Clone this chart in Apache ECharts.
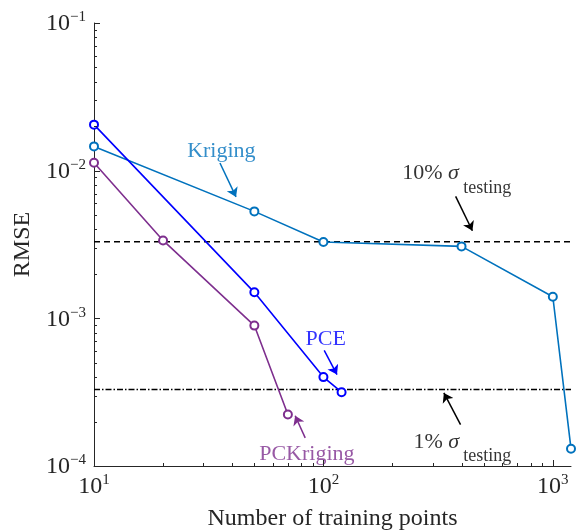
<!DOCTYPE html>
<html><head><meta charset="utf-8">
<script src="https://cdn.jsdelivr.net/npm/echarts@6/dist/echarts.min.js"></script>
<style>html,body{margin:0;padding:0;background:#fff}#c{width:582px;height:531px}</style>
</head><body><div id="c"></div>
<script>
// ---- data ----
const pceX = [10, 50, 100, 120];
const pceY = [0.0205, 0.0015, 0.0004, 0.000316];
const krigX = [10, 50, 100, 400, 1000, 1200];
const krigY = [0.0146, 0.0053, 0.00329, 0.00307, 0.0014, 0.000131];
const pckX = [10, 20, 50, 70];
const pckY = [0.0113, 0.00337, 0.000893, 0.000223];
const sigma10 = 0.0033;
const sigma1 = 0.00033;
const xRange = [10, 1200];
const yRange = [1e-4, 1e-1];
const xMajorTicks = [10, 100, 1000];
const xMinorTicks = [20, 30, 40, 50, 60, 70, 80, 90, 200, 300, 400, 500, 600, 700, 800, 900];
const yMajorTicks = [1e-4, 1e-3, 1e-2, 1e-1];
const yMinorTicks = [2e-4, 3e-4, 4e-4, 5e-4, 6e-4, 7e-4, 8e-4, 9e-4,
                     2e-3, 3e-3, 4e-3, 5e-3, 6e-3, 7e-3, 8e-3, 9e-3,
                     2e-2, 3e-2, 4e-2, 5e-2, 6e-2, 7e-2, 8e-2, 9e-2];
const xTitle = 'Number of training points';
const yTitle = 'RMSE';
// annotation text anchors (data coords)
const annoKriging = [35.9, 0.01345];
const annoPCE = [102.3, 0.000723];
const annoPCK = [84.7, 0.0001194];
const anno10Main = [220.4, 0.009543];
const anno10Sub = [406.5, 0.007551];
const anno1Main = [247, 0.000144];
const anno1Sub = [406.5, 0.0001158];
// annotation arrows [from, to]
const arrowKriging = [[35.4, 0.01127], [41.6, 0.00664]];
const arrowPCE = [[100.8, 0.000607], [114.6, 0.000416]];
const arrowPCK = [[83.3, 0.000155], [75.3, 0.000219]];
const arrow10 = [[377, 0.0067], [446, 0.00392]];
const arrow1 = [[396, 0.0001907], [335, 0.0003126]];

// ---- style ----
const FONT = '"Liberation Serif", "Times New Roman", serif';
const C_PCE = '#0000ff', C_KRIG = '#0072bd', C_PCK = '#7e2f8e', C_AX = '#262626';

function zip(a, b) { return a.map((v, i) => [v, b[i]]); }
function powLabel(v) {
  const l = Math.log10(v), e = Math.round(l);
  if (Math.abs(l - e) > 1e-6) return '';
  return '{b|10}{s|' + (e < 0 ? '\u2212' + (-e) : e) + '}';
}
const powRich = {
  b: { fontFamily: FONT, fontSize: 24, color: C_AX, lineHeight: 26, verticalAlign: 'bottom' },
  s: { fontFamily: FONT, fontSize: 15, color: C_AX, lineHeight: 14, verticalAlign: 'top' }
};

function tickSeries(vals, isX, len) {
  return {
    type: 'custom', coordinateSystem: 'cartesian2d', silent: true, z: 10, clip: false,
    data: vals.map(v => isX ? [v, yRange[0]] : [xRange[0], v]),
    renderItem: function (params, api) {
      const p = api.coord([api.value(0), api.value(1)]);
      if (isX) {
        const x = Math.round(p[0]) + 0.5;
        return { type: 'line', shape: { x1: x, y1: p[1], x2: x, y2: p[1] - len }, style: { stroke: C_AX, lineWidth: 1 } };
      } else {
        const y = Math.round(p[1]) + 0.5;
        return { type: 'line', shape: { x1: p[0], y1: y, x2: p[0] + len, y2: y }, style: { stroke: C_AX, lineWidth: 1 } };
      }
    }
  };
}

function dataSeries(name, xs, ys, color) {
  return {
    name: name, type: 'line', data: zip(xs, ys), z: 4,
    symbol: 'emptyCircle', symbolSize: 8,
    lineStyle: { color: color, width: 1.6 },
    itemStyle: { color: color, borderWidth: 1.6, borderColor: color },
    emphasis: { disabled: true }, animation: false
  };
}

function textSeries(pt, text, color, opts) {
  opts = opts || {};
  return {
    type: 'scatter', symbol: 'circle', symbolSize: 1, silent: true, z: 6, clip: false,
    itemStyle: { color: 'transparent' },
    data: [pt],
    label: {
      show: true, position: 'inside', align: opts.align || 'center', verticalAlign: 'middle',
      formatter: text, color: color, fontFamily: FONT, fontSize: opts.fontSize || 22,
      rich: opts.rich || {}
    }
  };
}

const sigmaRich = {
  t: { fontFamily: FONT, fontSize: 22, color: '#000' },
  g: { fontFamily: FONT, fontSize: 22, fontStyle: 'italic', color: '#000' }
};

const arrowSeries = {
  type: 'lines', coordinateSystem: 'cartesian2d', silent: true, z: 6,
  symbol: ['none', 'arrow'], symbolSize: [0, 9],
  lineStyle: { width: 1.5, opacity: 1 },
  data: [
    { coords: arrowKriging, lineStyle: { color: C_KRIG } },
    { coords: arrowPCE, lineStyle: { color: C_PCE } },
    { coords: arrowPCK, lineStyle: { color: C_PCK } },
    { coords: arrow10, lineStyle: { color: '#000' } },
    { coords: arrow1, lineStyle: { color: '#000' } }
  ]
};

const chart = echarts.init(document.getElementById('c'), null, { renderer: 'canvas' });
chart.setOption({
  animation: false,
  backgroundColor: '#fff',
  grid: { left: 94, right: 11, top: 23, bottom: 65, containLabel: false, outerBoundsMode: 'none' },
  xAxis: {
    type: 'log', logBase: 10, min: xRange[0], max: xRange[1],
    name: xTitle, nameLocation: 'middle', nameGap: 41,
    nameTextStyle: { fontFamily: FONT, fontSize: 24, color: C_AX },
    axisLine: { show: true, onZero: false, lineStyle: { color: C_AX, width: 1 } },
    axisTick: { show: false }, minorTick: { show: false },
    splitLine: { show: false },
    axisLabel: { formatter: powLabel, rich: powRich, margin: 7, showMaxLabel: true, hideOverlap: false }
  },
  yAxis: {
    type: 'log', logBase: 10, min: yRange[0], max: yRange[1],
    name: yTitle, nameLocation: 'middle', nameGap: 56, nameRotate: 90,
    nameTextStyle: { fontFamily: FONT, fontSize: 24, color: C_AX },
    axisLine: { show: true, onZero: false, lineStyle: { color: C_AX, width: 1 } },
    axisTick: { show: false }, minorTick: { show: false },
    splitLine: { show: false },
    axisLabel: { formatter: powLabel, rich: powRich, margin: 8 }
  },
  series: [
    tickSeries(xMajorTicks, true, 6),
    tickSeries(xMinorTicks, true, 3),
    tickSeries(yMajorTicks, false, 6),
    tickSeries(yMinorTicks, false, 3),
    {
      type: 'line', data: [[xRange[0], sigma10], [xRange[1], sigma10]], symbol: 'none', z: 3,
      lineStyle: { color: '#000', width: 1.5, type: [6, 4] }, silent: true
    },
    {
      type: 'line', data: [[xRange[0], sigma1], [xRange[1], sigma1]], symbol: 'none', z: 3,
      lineStyle: { color: '#000', width: 1.5, type: [6, 2, 1.5, 2] }, silent: true
    },
    dataSeries('Kriging', krigX, krigY, C_KRIG),
    dataSeries('PCE', pceX, pceY, C_PCE),
    dataSeries('PCKriging', pckX, pckY, C_PCK),
    arrowSeries,
    textSeries(annoKriging, 'Kriging', C_KRIG),
    textSeries(annoPCE, 'PCE', C_PCE),
    textSeries(annoPCK, 'PCKriging', C_PCK),
    textSeries(anno10Main, '{t|10% }{g|\u03c3}', '#000', { align: 'left', rich: sigmaRich }),
    textSeries(anno10Sub, 'testing', '#000', { align: 'left', fontSize: 18 }),
    textSeries(anno1Main, '{t|1% }{g|\u03c3}', '#000', { align: 'left', rich: sigmaRich }),
    textSeries(anno1Sub, 'testing', '#000', { align: 'left', fontSize: 18 })
  ]
});
</script></body></html>
